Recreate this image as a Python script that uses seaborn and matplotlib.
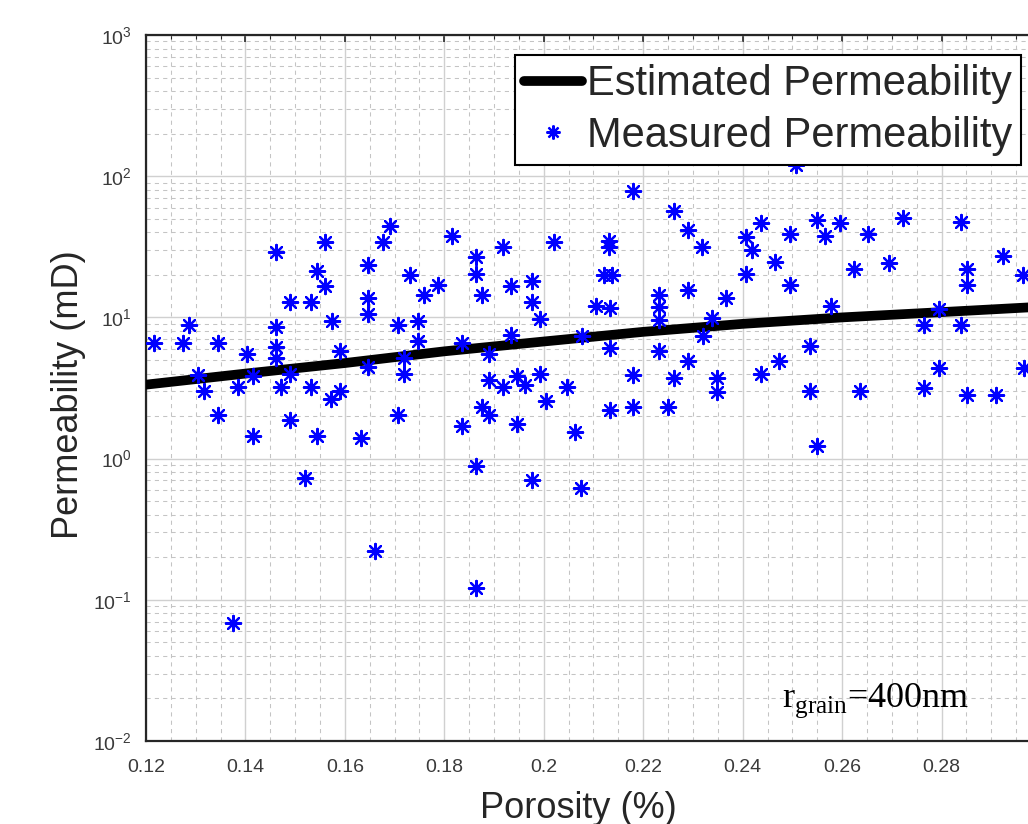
'''
Porosity vs permeability: measured samples and estimated curve (log scale).
'''

import numpy as np
import pandas as pd
import matplotlib
matplotlib.use("Agg")
import matplotlib.pyplot as plt
from matplotlib.lines import Line2D
from matplotlib.ticker import LogLocator, FuncFormatter, MultipleLocator
import seaborn as sns


porosity = [0.1217, 0.1275, 0.1287, 0.1304, 0.1316, 0.1345, 0.1345, 0.1374, 0.1386, 0.1404,
            0.1415, 0.1415, 0.1461, 0.1461, 0.1461, 0.1461, 0.1472, 0.1489, 0.1489, 0.1489,
            0.1520, 0.1531, 0.1531, 0.1544, 0.1544, 0.1561, 0.1561, 0.1574, 0.1573, 0.1590,
            0.1591, 0.1632, 0.1647, 0.1647, 0.1647, 0.1647, 0.1660, 0.1676, 0.1690, 0.1707,
            0.1707, 0.1719, 0.1719, 0.1730, 0.1748, 0.1748, 0.1759, 0.1788, 0.1816, 0.1835,
            0.1835, 0.1864, 0.1864, 0.1864, 0.1864, 0.1876, 0.1875, 0.1889, 0.1889, 0.1889,
            0.1918, 0.1918, 0.1934, 0.1934, 0.1946, 0.1946, 0.1963, 0.1976, 0.1976, 0.1976,
            0.1993, 0.1993, 0.2005, 0.2021, 0.2046, 0.2063, 0.2075, 0.2076, 0.2105, 0.2122,
            0.2137, 0.2132, 0.2132, 0.2134, 0.2134, 0.2134, 0.2180, 0.2180, 0.2180, 0.2232,
            0.2232, 0.2232, 0.2232, 0.2250, 0.2262, 0.2262, 0.2291, 0.2291, 0.2291, 0.2319,
            0.2320, 0.2338, 0.2349, 0.2349, 0.2366, 0.2407, 0.2407, 0.2419, 0.2436, 0.2436,
            0.2465, 0.2473, 0.2495, 0.2495, 0.2507, 0.2536, 0.2536, 0.2549, 0.2549, 0.2566,
            0.2578, 0.2595, 0.2624, 0.2636, 0.2652, 0.2694, 0.2723, 0.2764, 0.2764, 0.2794,
            0.2794, 0.2839, 0.2839, 0.2851, 0.2851, 0.2851, 0.2909, 0.2923, 0.2963, 0.2965]
permeability = [6.56, 6.56, 8.9, 3.93, 3.03, 6.56, 2.02, 0.0686, 3.24, 5.51,
                3.87, 1.44, 28.9, 8.6, 6.14, 5.13, 3.24, 12.8, 3.98, 1.88,
                0.73, 12.8, 3.24, 21.4, 1.44, 34.4, 16.8, 9.5, 2.65, 5.75,
                3.03, 1.39, 23.6, 13.7, 10.6, 4.43, 0.223, 34.4, 44.7, 8.85,
                2.02, 5.13, 3.98, 20.1, 9.5, 6.85, 14.3, 17.0, 37.9, 6.56,
                1.71, 26.6, 20.3, 0.89, 0.121, 14.3, 2.31, 5.51, 3.61, 2.05,
                31.7, 3.24, 16.8, 7.55, 3.87, 1.76, 3.34, 18.0, 12.8, 0.71,
                9.76, 3.98, 2.57, 34.0, 3.24, 1.54, 0.62, 7.43, 12.0, 20.1,
                20.1, 35.0, 31.3, 11.6, 6.08, 2.21, 79.0, 3.93, 2.31, 14.3,
                11.8, 9.6, 5.75, 2.31, 56.4, 3.7, 41.7, 15.7, 4.89, 31.7,
                7.43, 9.9, 3.7, 2.98, 13.7, 37.3, 20.3, 30.1, 46.4, 3.95,
                24.5, 4.89, 39.0, 17.1, 120.0, 6.3, 3.03, 49.3, 1.22, 37.5,
                12.1, 46.4, 22.1, 3.03, 39.0, 24.3, 50.7, 8.9, 3.15, 11.5,
                4.39, 47.7, 8.9, 22.1, 17.1, 2.83, 2.83, 27.0, 20.0, 4.39]

#Estimated permeability curve
est_porosity = [0.12, 0.14, 0.16, 0.18, 0.20, 0.22, 0.24, 0.26, 0.28, 0.30]
est_permeability = [3.34, 4.0, 4.75, 5.75, 6.75, 7.9, 9.0, 10.0, 10.9, 11.9]

measured = pd.DataFrame({"porosity": porosity, "permeability": permeability})
estimated = pd.DataFrame({"porosity": est_porosity, "permeability": est_permeability})


sns.set_style("white")
plt.rcParams["font.family"] = ["Liberation Sans", "DejaVu Sans"]
plt.rcParams["mathtext.fontset"] = "custom"
plt.rcParams["mathtext.rm"] = "Liberation Serif"
plt.rcParams["mathtext.sf"] = "Liberation Sans"

fig = plt.figure(figsize=(10.28, 8.24), dpi=100)
#the axes run past the right edge, as in the cropped original
ax = fig.add_axes([146 / 1028, 83 / 824, 895 / 1028, 706 / 824])

asterisk = (8, 2, 0)
sns.lineplot(data=estimated, x="porosity", y="permeability", color="black",
             linewidth=7, ax=ax, zorder=3)
sns.scatterplot(data=measured, x="porosity", y="permeability", marker=asterisk,
                color="blue", s=120, linewidth=1.6, ax=ax, zorder=4)

ax.set_yscale("log")
ax.set_xlim(0.12, 0.30)
ax.set_ylim(1e-2, 1e3)

#MATLAB looking grid and ticks
ax.xaxis.set_major_locator(MultipleLocator(0.02))
ax.xaxis.set_minor_locator(MultipleLocator(0.005))
ax.xaxis.set_major_formatter(FuncFormatter(lambda v, _: ("%.2f" % v).rstrip("0")))
ax.yaxis.set_major_locator(LogLocator(base=10, numticks=10))
ax.yaxis.set_minor_locator(LogLocator(base=10, subs=np.arange(2, 10), numticks=20))
ax.yaxis.set_major_formatter(FuncFormatter(
    lambda v, _: r"$\mathsf{10^{%d}}$" % int(round(np.log10(v)))))
ax.grid(which="major", color="#d0d0d0", linewidth=1.0, linestyle="-")
ax.grid(which="minor", color="#c4c4c4", linewidth=0.75, linestyle=(0, (4, 4)))
ax.set_axisbelow(True)
ax.tick_params(which="both", direction="in", top=True, right=True,
               colors="#262626", labelcolor="#3a3a3a")
ax.tick_params(which="major", length=5, width=1.2, labelsize=14)
ax.tick_params(axis="x", which="major", pad=13)
ax.tick_params(axis="y", which="major", pad=10)
ax.tick_params(which="minor", length=3, width=0.8)
for side in ax.spines.values():
    side.set_color("#262626")
    side.set_linewidth(1.6)

ax.set_xlabel("Porosity (%)", fontsize=26, color="#262626")
ax.set_ylabel("Permeability (mD)", fontsize=26, color="#262626")
ax.xaxis.set_label_coords(0.483, -0.071)
ax.yaxis.set_label_coords(-0.067, 0.49)

ax.text(782, 824 - 707, r"r$_{\mathrm{grain}}$=400nm", transform=None,
        fontsize=26, family="Liberation Serif", color="black", zorder=5)

handles = [Line2D([], [], color="black", linewidth=7),
           Line2D([], [], color="blue", marker=asterisk, linestyle="none",
                  markersize=10, markeredgewidth=1.6)]
leg = ax.legend(handles, ["Estimated Permeability", "Measured Permeability"],
                loc="upper right", bbox_to_anchor=(1021 / 1028, 1 - 55 / 824),
                bbox_transform=fig.transFigure, borderaxespad=0, fontsize=30,
                frameon=True, fancybox=False, framealpha=1, edgecolor="black",
                handlelength=1.4, handletextpad=0.1, labelspacing=0.28,
                borderpad=0.22)
leg.get_frame().set_linewidth(1.5)
leg.set_zorder(10)

plt.savefig("out.png", dpi=100)
